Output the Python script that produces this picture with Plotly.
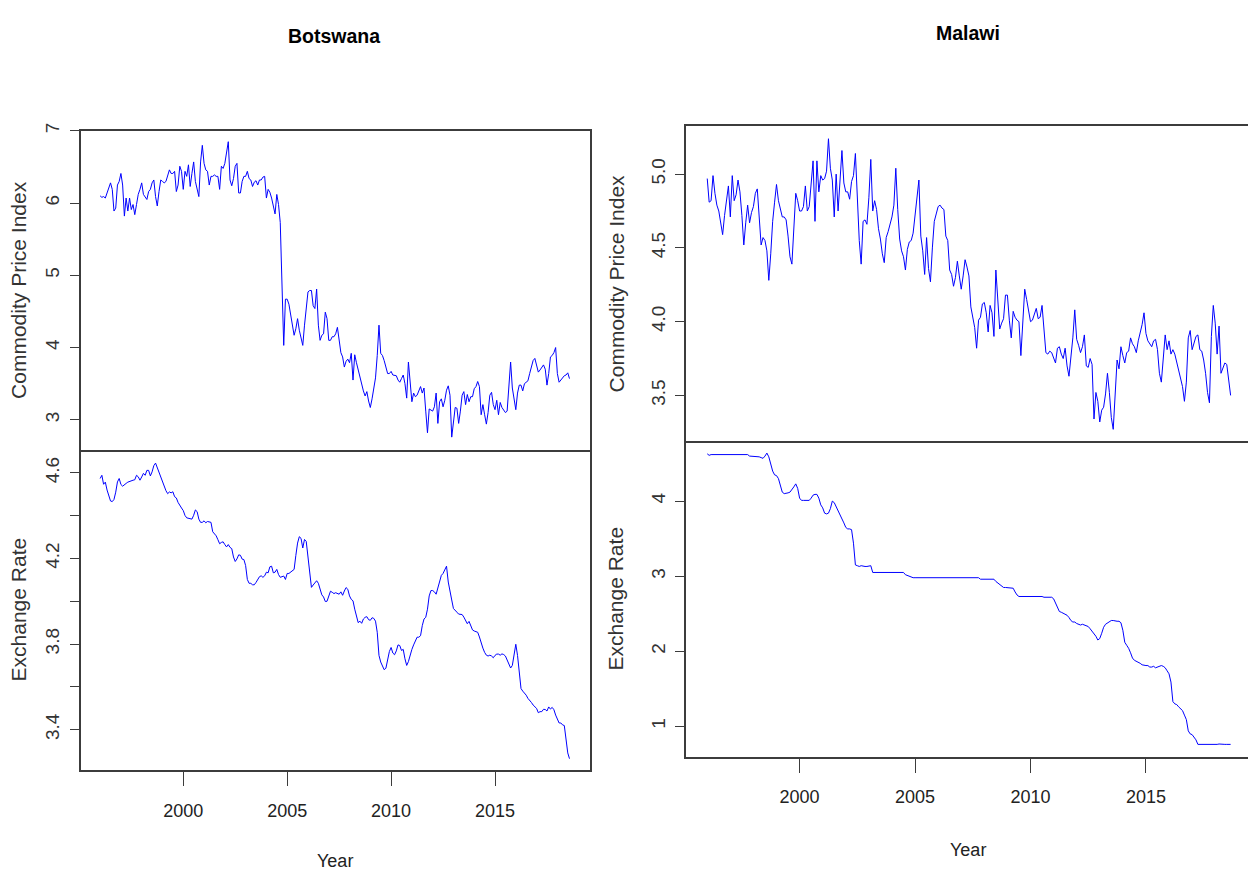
import plotly.graph_objects as go

START_YEAR = 1996.0
MONTHS_PER_YEAR = 12

# ---------------- Botswana ----------------
bw_cpi = [
    6.10, 6.08, 6.09, 6.07, 6.14, 6.21, 6.28, 6.19, 5.89, 5.93, 6.25, 6.30,
    6.41, 6.25, 5.82, 6.07, 5.89, 6.07, 5.91, 5.98, 5.84, 5.98, 6.12, 6.19,
    6.28, 6.12, 6.09, 6.05, 6.16, 6.19, 6.28, 6.32, 6.09, 5.96, 6.16, 6.32,
    6.30, 6.28, 6.30, 6.38, 6.46, 6.41, 6.41, 6.44, 6.16, 6.25, 6.51, 6.44,
    6.19, 6.44, 6.37, 6.53, 6.23, 6.41, 6.57, 6.30, 6.21, 6.09, 6.57, 6.80,
    6.55, 6.46, 6.44, 6.25, 6.37, 6.37, 6.39, 6.37, 6.37, 6.19, 6.51, 6.48,
    6.55, 6.73, 6.85, 6.32, 6.24, 6.34, 6.51, 6.55, 6.14, 6.14, 6.30, 6.37,
    6.37, 6.44, 6.34, 6.32, 6.23, 6.29, 6.31, 6.25, 6.32, 6.32, 6.36, 6.37,
    6.07, 6.19, 6.15, 6.07, 5.96, 5.85, 6.12, 5.98, 5.73, 4.77, 4.03, 4.67,
    4.67, 4.60, 4.47, 4.31, 4.17, 4.26, 4.40, 4.24, 4.12, 4.03, 4.31, 4.56,
    4.77, 4.79, 4.79, 4.58, 4.54, 4.81, 4.31, 4.10, 4.17, 4.19, 4.49, 4.40,
    4.10, 4.10, 4.15, 4.15, 4.19, 4.28, 4.12, 3.93, 3.87, 3.73, 3.81, 3.84,
    3.79, 3.92, 3.55, 3.90, 3.79, 3.69, 3.60, 3.46, 3.40, 3.33, 3.39, 3.26,
    3.17, 3.29, 3.44, 3.58, 3.89, 4.31, 3.92, 3.89, 3.82, 3.73, 3.64, 3.64,
    3.67, 3.62, 3.61, 3.61, 3.55, 3.52, 3.57, 3.62, 3.50, 3.30, 3.80, 3.48,
    3.25, 3.37, 3.32, 3.34, 3.41, 3.46, 3.37, 3.44, 3.12, 2.82, 3.15, 3.14,
    3.12, 3.18, 3.37, 2.95, 3.25, 3.29, 3.18, 3.27, 3.41, 3.47, 3.34, 2.76,
    3.02, 3.17, 3.16, 2.95, 3.12, 3.34, 3.39, 3.21, 3.35, 3.25, 3.32, 3.32,
    3.43, 3.46, 3.53, 3.46, 3.07, 3.21, 3.07, 2.94, 3.10, 3.34, 3.38, 3.21,
    3.14, 3.27, 3.07, 3.24, 3.17, 3.14, 3.10, 3.12, 3.46, 3.80, 3.44, 3.25,
    3.14, 3.37, 3.48, 3.48, 3.40, 3.50, 3.52, 3.54, 3.64, 3.72, 3.82, 3.85,
    3.73, 3.66, 3.69, 3.73, 3.76, 3.70, 3.48, 3.64, 3.87, 3.89, 3.93, 4.00,
    3.64, 3.52, 3.55, 3.57, 3.61, 3.62, 3.65, 3.57,
]

bw_er = [
    4.574, 4.589, 4.547, 4.557, 4.520, 4.489, 4.469, 4.466, 4.476, 4.510, 4.558, 4.574,
    4.546, 4.538, 4.547, 4.551, 4.557, 4.561, 4.563, 4.566, 4.568, 4.589, 4.582, 4.566,
    4.581, 4.598, 4.589, 4.612, 4.612, 4.586, 4.605, 4.634, 4.646, 4.625, 4.600, 4.577,
    4.561, 4.538, 4.517, 4.503, 4.511, 4.507, 4.512, 4.489, 4.483, 4.462, 4.445, 4.436,
    4.424, 4.401, 4.390, 4.387, 4.384, 4.384, 4.402, 4.427, 4.419, 4.384, 4.369, 4.369,
    4.376, 4.367, 4.373, 4.371, 4.369, 4.325, 4.316, 4.306, 4.288, 4.269, 4.275, 4.278,
    4.265, 4.254, 4.265, 4.252, 4.246, 4.207, 4.186, 4.198, 4.217, 4.215, 4.197, 4.195,
    4.167, 4.102, 4.084, 4.084, 4.077, 4.077, 4.088, 4.102, 4.115, 4.119, 4.112, 4.119,
    4.136, 4.133, 4.161, 4.164, 4.133, 4.136, 4.149, 4.125, 4.112, 4.115, 4.118, 4.102,
    4.130, 4.130, 4.136, 4.144, 4.149, 4.214, 4.272, 4.302, 4.294, 4.249, 4.289, 4.280,
    4.210, 4.118, 4.065, 4.076, 4.087, 4.096, 4.084, 4.051, 4.030, 4.020, 3.999, 4.000,
    4.025, 4.047, 4.042, 4.036, 4.040, 4.037, 4.033, 4.044, 4.028, 4.048, 4.064, 4.056,
    4.025, 4.009, 4.002, 3.963, 3.924, 3.900, 3.907, 3.897, 3.917, 3.925, 3.928, 3.914,
    3.911, 3.923, 3.920, 3.907, 3.855, 3.747, 3.716, 3.694, 3.680, 3.687, 3.722, 3.765,
    3.784, 3.758, 3.750, 3.768, 3.796, 3.793, 3.770, 3.775, 3.731, 3.700, 3.718, 3.751,
    3.775, 3.796, 3.812, 3.832, 3.832, 3.839, 3.886, 3.917, 3.925, 3.963, 4.025, 4.050,
    4.050, 4.044, 4.033, 4.059, 4.095, 4.121, 4.130, 4.144, 4.164, 4.090, 4.040, 4.006,
    3.966, 3.955, 3.949, 3.940, 3.940, 3.938, 3.926, 3.907, 3.895, 3.906, 3.889, 3.866,
    3.861, 3.858, 3.855, 3.833, 3.802, 3.781, 3.761, 3.748, 3.744, 3.748, 3.744, 3.736,
    3.747, 3.753, 3.753, 3.748, 3.754, 3.751, 3.744, 3.724, 3.703, 3.688, 3.700, 3.762,
    3.799, 3.747, 3.662, 3.592, 3.580, 3.571, 3.561, 3.546, 3.538, 3.527, 3.515, 3.509,
    3.499, 3.479, 3.484, 3.484, 3.495, 3.494, 3.487, 3.506, 3.496, 3.504, 3.493, 3.468,
    3.453, 3.431, 3.431, 3.422, 3.419, 3.345, 3.291, 3.264,
]

# ---------------- Malawi ----------------
mw_cpi = [
    4.97, 4.81, 4.82, 4.99, 4.87, 4.79, 4.75, 4.66, 4.59, 4.72, 4.83, 4.92,
    4.71, 4.99, 4.82, 4.86, 4.96, 4.88, 4.72, 4.52, 4.67, 4.79, 4.67, 4.74,
    4.78, 4.87, 4.90, 4.69, 4.52, 4.57, 4.55, 4.48, 4.28, 4.46, 4.68, 4.81,
    4.93, 4.82, 4.76, 4.71, 4.71, 4.69, 4.58, 4.44, 4.39, 4.62, 4.87, 4.82,
    4.75, 4.75, 4.78, 4.92, 4.75, 4.78, 4.97, 5.09, 4.68, 5.09, 4.88, 4.99,
    4.96, 4.97, 5.02, 5.24, 5.04, 4.96, 4.71, 5.00, 4.75, 4.93, 5.16, 4.94,
    4.88, 4.88, 4.83, 4.95, 4.99, 5.14, 4.85, 4.55, 4.39, 4.68, 4.69, 4.66,
    4.84, 5.10, 4.75, 4.82, 4.76, 4.63, 4.56, 4.46, 4.40, 4.57, 4.61, 4.66,
    4.71, 4.79, 5.04, 4.76, 4.56, 4.48, 4.44, 4.35, 4.49, 4.54, 4.55, 4.60,
    4.72, 4.84, 4.96, 4.58, 4.48, 4.32, 4.57, 4.36, 4.27, 4.50, 4.68, 4.73,
    4.78, 4.79, 4.77, 4.76, 4.58, 4.55, 4.35, 4.32, 4.24, 4.30, 4.41, 4.31,
    4.22, 4.31, 4.42, 4.37, 4.31, 4.10, 4.03, 3.96, 3.82, 4.01, 4.03, 4.12,
    4.13, 4.06, 3.93, 4.11, 4.06, 3.90, 4.35, 4.11, 3.95, 3.99, 4.02, 4.18,
    4.18, 4.01, 3.89, 4.07, 4.03, 4.01, 4.00, 3.77, 3.98, 4.22, 4.15, 4.06,
    4.00, 4.01, 4.05, 4.09, 4.02, 4.03, 4.11, 3.94, 3.79, 3.78, 3.80, 3.79,
    3.75, 3.72, 3.82, 3.83, 3.78, 3.75, 3.82, 3.70, 3.63, 3.74, 3.89, 4.08,
    3.88, 3.84, 3.79, 3.83, 3.91, 3.70, 3.69, 3.75, 3.71, 3.34, 3.52, 3.46,
    3.32, 3.40, 3.42, 3.51, 3.65, 3.52, 3.35, 3.27, 3.56, 3.74, 3.68, 3.83,
    3.77, 3.72, 3.79, 3.80, 3.89, 3.85, 3.83, 3.79, 3.87, 3.92, 3.98, 4.06,
    3.92, 3.87, 3.85, 3.83, 3.87, 3.88, 3.81, 3.65, 3.59, 3.78, 3.91, 3.81,
    3.87, 3.78, 3.81, 3.78, 3.72, 3.68, 3.61, 3.56, 3.46, 3.59, 3.89, 3.94,
    3.81, 3.85, 3.90, 3.91, 3.81, 3.80, 3.74, 3.65, 3.52, 3.45, 3.90, 4.11,
    3.99, 3.78, 3.97, 3.65, 3.69, 3.72, 3.71, 3.59, 3.50,
]

mw_er = [
    4.63, 4.61, 4.62, 4.62, 4.62, 4.62, 4.62, 4.62, 4.62, 4.62, 4.62, 4.62,
    4.62, 4.62, 4.62, 4.62, 4.62, 4.62, 4.62, 4.62, 4.62, 4.62, 4.60, 4.60,
    4.60, 4.60, 4.60, 4.59, 4.58, 4.57, 4.60, 4.64, 4.59, 4.48, 4.40, 4.35,
    4.34, 4.30, 4.21, 4.12, 4.10, 4.10, 4.11, 4.12, 4.15, 4.19, 4.23, 4.17,
    4.04, 4.01, 4.01, 4.01, 4.01, 4.01, 4.04, 4.08, 4.09, 4.09, 4.04, 3.95,
    3.91, 3.84, 3.83, 3.84, 3.90, 4.00, 3.98, 3.93, 3.87, 3.82, 3.78, 3.71,
    3.65, 3.63, 3.63, 3.62, 3.44, 3.15, 3.14, 3.13, 3.14, 3.13, 3.13, 3.13,
    3.14, 3.14, 3.05, 3.05, 3.05, 3.05, 3.05, 3.05, 3.05, 3.05, 3.05, 3.05,
    3.05, 3.05, 3.05, 3.05, 3.05, 3.05, 3.05, 3.02, 3.01, 2.99, 2.98, 2.98,
    2.98, 2.98, 2.98, 2.98, 2.98, 2.98, 2.98, 2.98, 2.98, 2.98, 2.98, 2.98,
    2.98, 2.98, 2.98, 2.98, 2.98, 2.98, 2.98, 2.98, 2.98, 2.98, 2.98, 2.98,
    2.98, 2.98, 2.98, 2.98, 2.98, 2.98, 2.98, 2.98, 2.98, 2.98, 2.96, 2.96,
    2.96, 2.96, 2.96, 2.96, 2.96, 2.96, 2.93, 2.91, 2.89, 2.86, 2.85, 2.85,
    2.85, 2.85, 2.85, 2.84, 2.79, 2.75, 2.73, 2.73, 2.73, 2.73, 2.73, 2.73,
    2.73, 2.73, 2.73, 2.73, 2.73, 2.74, 2.73, 2.72, 2.72, 2.72, 2.72, 2.72,
    2.70, 2.64, 2.58, 2.53, 2.52, 2.51, 2.50, 2.48, 2.45, 2.41, 2.39, 2.39,
    2.37, 2.36, 2.35, 2.36, 2.35, 2.34, 2.33, 2.30, 2.27, 2.24, 2.20, 2.15,
    2.17, 2.24, 2.32, 2.36, 2.38, 2.39, 2.41, 2.41, 2.40, 2.40, 2.40, 2.38,
    2.28, 2.12, 2.08, 2.04, 1.98, 1.91, 1.88, 1.87, 1.86, 1.84, 1.82, 1.81,
    1.81, 1.81, 1.79, 1.79, 1.80, 1.78, 1.79, 1.81, 1.81, 1.80, 1.78, 1.74,
    1.70, 1.59, 1.33, 1.30, 1.29, 1.26, 1.24, 1.21, 1.15, 1.09, 0.94, 0.90,
    0.89, 0.86, 0.82, 0.76, 0.76, 0.76, 0.76, 0.76, 0.76, 0.755, 0.76, 0.76,
    0.75, 0.76, 0.765, 0.76, 0.76, 0.76, 0.76, 0.76, 0.76,
]

year_ticks = [2000, 2005, 2010, 2015]
year_tick_labels = ["2000", "2005", "2010", "2015"]
bw_cpi_ticks = [3, 4, 5, 6, 7]
bw_cpi_tick_labels = ["3", "4", "5", "6", "7"]
bw_er_ticks = [3.4, 3.6, 3.8, 4.0, 4.2, 4.4, 4.6]
bw_er_tick_labels = ["3.4", "", "3.8", "", "4.2", "", "4.6"]
mw_cpi_ticks = [3.5, 4.0, 4.5, 5.0]
mw_cpi_tick_labels = ["3.5", "4.0", "4.5", "5.0"]
mw_er_ticks = [1, 2, 3, 4]
mw_er_tick_labels = ["1", "2", "3", "4"]


def months(values):
    return [START_YEAR + i / MONTHS_PER_YEAR for i in range(len(values))]


W, H = 1248, 873
LINE_COL = "#0000FF"
FRAME_COL = "#3c3c3c"
REG_FONT = "Liberation Sans, Arial, sans-serif"
NARROW_FONT = "Liberation Sans Narrow, Arial Narrow, Liberation Sans, Arial, sans-serif"


def fx(px):
    return px / W


def fy(py):
    return 1 - py / H


fig = go.Figure()
fig.add_trace(go.Scatter(x=months(bw_cpi), y=bw_cpi, mode="lines",
                         line=dict(color=LINE_COL, width=1), xaxis="x", yaxis="y"))
fig.add_trace(go.Scatter(x=months(bw_er), y=bw_er, mode="lines",
                         line=dict(color=LINE_COL, width=1), xaxis="x2", yaxis="y2"))
fig.add_trace(go.Scatter(x=months(mw_cpi), y=mw_cpi, mode="lines",
                         line=dict(color=LINE_COL, width=1), xaxis="x3", yaxis="y3"))
fig.add_trace(go.Scatter(x=months(mw_er), y=mw_er, mode="lines",
                         line=dict(color=LINE_COL, width=1), xaxis="x4", yaxis="y4"))

bw_xdom = [fx(80.8), fx(590)]
mw_xdom = [fx(686), 1.0]
bw_xrange = [1995.07, 2019.57]
mw_xrange = [1995.08, 2019.42]

common_x = dict(showgrid=False, zeroline=False, showline=True, linecolor=FRAME_COL,
                linewidth=1.5)
common_y = dict(showgrid=False, zeroline=False, showline=True, linecolor=FRAME_COL,
                linewidth=1.5, ticks="outside", ticklen=9, tickwidth=1.2,
                tickcolor=FRAME_COL, tickangle=-90,
                tickfont=dict(family=REG_FONT, size=19, color="#333333"),
                ticklabelstandoff=3)

# bottom panel x-axis: frame bottom line + year ticks (top edge drawn by upper panel)
x_bottom = dict(mirror=False, ticks="outside", ticklen=14, tickwidth=1.2,
                tickcolor=FRAME_COL, tickmode="array", tickvals=year_ticks,
                ticktext=year_tick_labels,
                tickfont=dict(family=NARROW_FONT, size=18, color="#222222"),
                ticklabelstandoff=9)
# top panel x-axis: divider line + mirrored top frame line, no ticks
x_top = dict(mirror=True, ticks="", showticklabels=False)

fig.update_layout(
    width=W, height=H, autosize=False,
    margin=dict(l=0, r=0, t=0, b=0),
    paper_bgcolor="white", plot_bgcolor="white",
    showlegend=False,
    xaxis=dict(domain=bw_xdom, range=bw_xrange, anchor="y", **common_x, **x_top),
    yaxis=dict(domain=[fy(445.7), fy(124)], range=[2.587, 7.0], anchor="x",
               tickmode="array", tickvals=bw_cpi_ticks, ticktext=bw_cpi_tick_labels,
               mirror=True, **common_y),
    xaxis2=dict(domain=bw_xdom, range=bw_xrange, anchor="y2", **common_x, **x_bottom),
    yaxis2=dict(domain=[fy(769.3), fy(445.7)], range=[3.210, 4.709], anchor="x2",
                tickmode="array", tickvals=bw_er_ticks, ticktext=bw_er_tick_labels,
                mirror=True, **common_y),
    xaxis3=dict(domain=mw_xdom, range=mw_xrange, anchor="y3", **common_x, **x_top),
    yaxis3=dict(domain=[fy(436.7), fy(119.3)], range=[3.193, 5.325], anchor="x3",
                tickmode="array", tickvals=mw_cpi_ticks, ticktext=mw_cpi_tick_labels,
                mirror=False, **common_y),
    xaxis4=dict(domain=mw_xdom, range=mw_xrange, anchor="y4", **common_x, **x_bottom),
    yaxis4=dict(domain=[fy(755.7), fy(436.7)], range=[0.595, 4.805], anchor="x4",
                tickmode="array", tickvals=mw_er_ticks, ticktext=mw_er_tick_labels,
                mirror=False, **common_y),
)

annotations = [
    dict(text="<b>Botswana</b>", x=fx(334), y=fy(28),
         font=dict(family=NARROW_FONT, size=19.5, color="black")),
    dict(text="<b>Malawi</b>", x=fx(968), y=fy(25),
         font=dict(family=NARROW_FONT, size=19.5, color="black")),
    dict(text="Year", x=fx(335), y=fy(861),
         font=dict(family=NARROW_FONT, size=18, color="#222222")),
    dict(text="Year", x=fx(968), y=fy(850),
         font=dict(family=NARROW_FONT, size=18, color="#222222")),
    dict(text="Commodity Price Index", x=fx(18.5), y=fy(285), textangle=-90,
         font=dict(family=REG_FONT, size=21, color="#333333")),
    dict(text="Exchange Rate", x=fx(18.5), y=fy(607.5), textangle=-90,
         font=dict(family=REG_FONT, size=21, color="#333333")),
    dict(text="Commodity Price Index", x=fx(616), y=fy(278), textangle=-90,
         font=dict(family=REG_FONT, size=21, color="#333333")),
    dict(text="Exchange Rate", x=fx(616), y=fy(596), textangle=-90,
         font=dict(family=REG_FONT, size=21, color="#333333")),
]
for a in annotations:
    a.update(xref="paper", yref="paper", showarrow=False,
             xanchor="center", yanchor="middle")
fig.update_layout(annotations=annotations)

fig.write_html("out.html")
